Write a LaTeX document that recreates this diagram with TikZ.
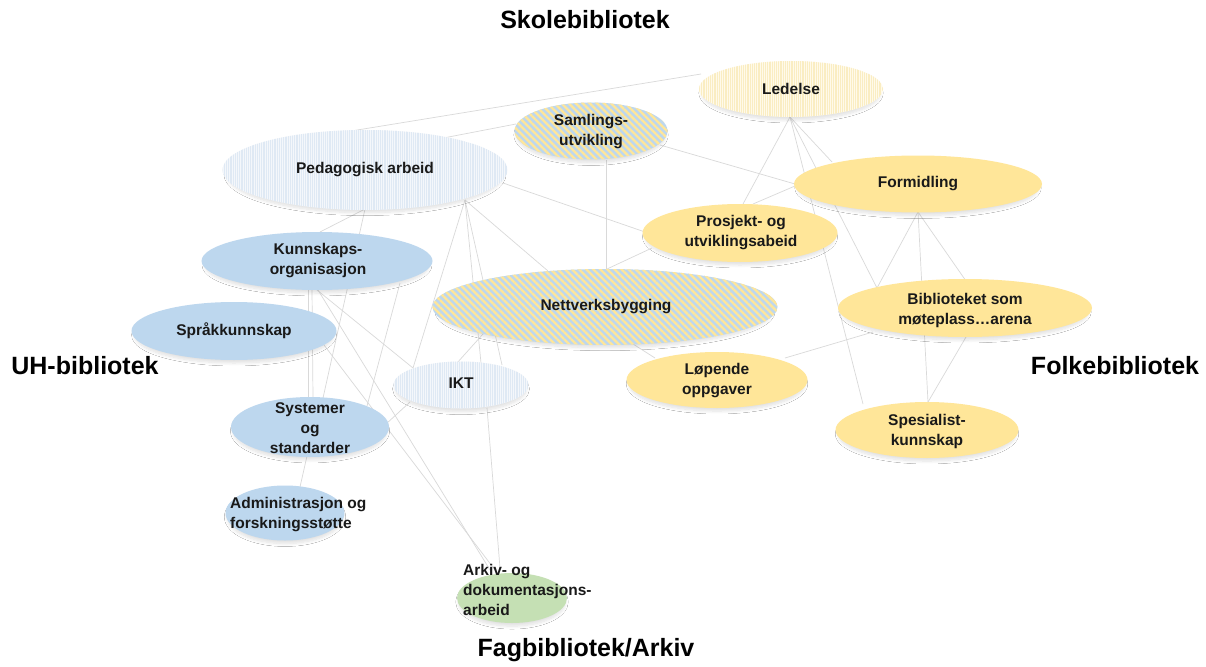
\documentclass[tikz,border=0pt]{standalone}
\usepackage{fontspec}
\setmainfont{Liberation Sans}
\usetikzlibrary{shapes.geometric,patterns.meta,calc,backgrounds,shadows.blur}
\definecolor{cblue}{HTML}{BDD7EE}
\definecolor{cyel}{HTML}{FFE699}
\definecolor{cgreen}{HTML}{C5E0B4}
\definecolor{ledbase}{HTML}{FFFAEA}
\definecolor{ledline}{HTML}{FAEDC2}
\definecolor{pbbase}{HTML}{F4F7FB}
\definecolor{pbline}{HTML}{DFE9F4}
\definecolor{lgray}{HTML}{D9D9D9}
\newcommand{\nodefont}{\fontsize{15.5}{20}\selectfont\bfseries}
\newcommand{\titlefont}{\fontsize{25}{30}\selectfont\bfseries}
\begin{document}
\begin{tikzpicture}[x=1pt,y=-1pt,
  ell/.style={ellipse, draw=none, inner sep=0pt,
    blur shadow={shadow xshift=0pt, shadow yshift=-4pt, shadow scale=0.97, shadow opacity=12, shadow blur steps=8, shadow blur radius=3pt}},
  solidblue/.style={ell, fill=cblue},
  solidyel/.style={ell, fill=cyel},
  solidgreen/.style={ell, fill=cgreen},
  paleblue/.style={ell, preaction={fill=pbbase}, pattern={Lines[angle=90,distance=2.2pt,line width=1.1pt]}, pattern color=pbline},
  paleyel/.style={ell, preaction={fill=ledbase}, pattern={Lines[angle=90,distance=2.2pt,line width=1.1pt]}, pattern color=ledline},
  striped/.style={ell, preaction={fill=cblue}, pattern={Lines[angle=-45,distance=5pt,line width=2.3pt]}, pattern color=cyel},
  txt/.style={font=\nodefont, align=center, inner sep=0pt, text=black!90},
  ttl/.style={font=\titlefont, inner sep=0pt, text=black},
  conn/.style={draw=lgray, line width=0.7pt}]
\useasboundingbox (0,0) rectangle (1206,666);

% titles
\node[ttl] (tskole) at (585,20) {Skolebibliotek};
\node[ttl] (tuh) at (85,366) {UH-bibliotek};
\node[ttl] (tfolk) at (1115,366) {Folkebibliotek};
\node[ttl] (tfag) at (586,650) {Fagbibliotek/Arkiv};

% ellipses
\node[paleyel, minimum width=184pt, minimum height=56pt] (led) at (791,89) {};
\node[striped, minimum width=153pt, minimum height=57pt] (sam) at (591,131) {};
\node[paleblue, minimum width=285pt, minimum height=80pt] (ped) at (365,170) {};
\node[solidblue, minimum width=231pt, minimum height=58pt] (kun) at (317,261) {};
\node[solidblue, minimum width=205pt, minimum height=58pt] (spr) at (234,331) {};
\node[striped, minimum width=345pt, minimum height=76pt] (net) at (605,307) {};
\node[paleblue, minimum width=135pt, minimum height=47pt] (ikt) at (461,385) {};
\node[solidblue, minimum width=158pt, minimum height=60pt] (sys) at (310,427) {};
\node[solidblue, minimum width=119pt, minimum height=55pt] (adm) at (285,513) {};
\node[solidgreen, minimum width=110pt, minimum height=50pt] (ark) at (512,598) {};
\node[solidyel, minimum width=195pt, minimum height=58pt] (pro) at (740,233) {};
\node[solidyel, minimum width=248pt, minimum height=57pt] (for) at (918,184) {};
\node[solidyel, minimum width=254pt, minimum height=58pt] (bib) at (965,308) {};
\node[solidyel, minimum width=181pt, minimum height=56pt] (lop) at (717,380) {};
\node[solidyel, minimum width=183pt, minimum height=56pt] (spe) at (927,430) {};

% texts
\node[txt] (ledT) at (led) {Ledelse};
\node[txt] (samT) at (591,132) {Samlings-\\utvikling};
\node[txt] (pedT) at (ped) {Pedagogisk arbeid};
\node[txt] (kunT) at (318,261) {Kunnskaps-\\organisasjon};
\node[txt] (sprT) at (234,331) {Språkkunnskap};
\node[txt] (netT) at (606,307) {Nettverksbygging};
\node[txt] (iktT) at (461,383) {IKT};
\node[txt] (sysT) at (310,428) {Systemer\\og\\standarder};
\node[txt, align=left, anchor=west] (admT) at (230,515) {Administrasjon og\\forskningsstøtte};
\node[txt, align=left, anchor=west] (arkT) at (463,590) {Arkiv- og\\dokumentasjons-\\arbeid};
\node[txt] (proT) at (741,233) {Prosjekt- og\\utviklingsabeid};
\node[txt] (forT) at (918,184) {Formidling};
\node[txt] (bibT) at (965,310) {Biblioteket som\\møteplass…arena};
\node[txt] (lopT) at (717,381) {Løpende\\oppgaver};
\node[txt] (speT) at (927,431) {Spesialist-\\kunnskap};

% connectors
\begin{pgfonlayer}{background}
\fill[white] (0,0) rectangle (1206,666);
\draw[conn] ($(ped)+(-20,-38)$) -- ($(led)+(-90,-15)$);
\draw[conn] ($(ped)+(68,-30)$) -- ($(sam)+(-75,-7)$);
\draw[conn] ($(sam)+(69,14)$) -- ($(for)+(-123,0)$);
\draw[conn] ($(sam)+(15,29)$) -- ($(net)+(1,-38)$);
\draw[conn] ($(led)+(-1,28)$) -- ($(pro)+(3,-29)$);
\draw[conn] ($(led)+(-1,28)$) -- ($(for)+(-86,-22)$);
\draw[conn] ($(led)+(-1,28)$) -- ($(bib)+(-88,-20)$);
\draw[conn] ($(led)+(-1,28)$) -- ($(spe)+(-64,-26)$);
\draw[conn] ($(pro)+(13,-29)$) -- ($(for)+(-123,2)$);
\draw[conn] ($(ped)+(138,13)$) -- ($(pro)+(-95,-1)$);
\draw[conn] ($(pro)+(-88,15)$) -- ($(net)+(2,-38)$);
\draw[conn] ($(for)+(0,28)$) -- ($(bib)+(-88,-20)$);
\draw[conn] ($(for)+(0,28)$) -- ($(spe)+(1,-28)$);
\draw[conn] ($(for)+(0,28)$) -- ($(bib)+(1,-27)$);
\draw[conn] ($(bib)+(1,29)$) -- ($(spe)+(1,-28)$);
\draw[conn] ($(lop)+(68,-22)$) -- ($(bib)+(-92,24)$);
\draw[conn] ($(net)+(28,37)$) -- ($(lop)+(-62,-22)$);
\draw[conn] ($(ped)+(0,39)$) -- ($(kun)+(3,-29)$);
\draw[conn] ($(ped)+(0,39)$) -- ($(sys)+(13,-29)$);
\draw[conn] ($(kun)+(83,22)$) -- ($(sys)+(57,-21)$);
\draw[conn] ($(kun)+(-5,29)$) -- ($(sys)+(3,-29)$);
\draw[conn] ($(kun)+(-9,29)$) -- ($(sys)+(-2,-29)$);
\draw[conn] ($(sys)+(-3,29)$) -- ($(adm)+(15,-26)$);
\draw[conn] ($(kun)+(0,29)$) -- ($(ikt)+(-48,-17)$);
\draw[conn] ($(kun)+(1,29)$) -- ($(ark)+(-22,-28)$);
\draw[conn] ($(spr)+(90,14)$) -- ($(ark)+(-17,-28)$);
\draw[conn] ($(ped)+(100,30)$) -- ($(ikt)+(-48,-17)$);
\draw[conn] ($(ped)+(100,30)$) -- ($(ikt)+(20,-22)$);
\draw[conn] ($(ped)+(100,30)$) -- ($(ikt)+(41,-20)$);
\draw[conn] ($(ped)+(100,30)$) -- ($(net)+(-57,-36)$);
\draw[conn] ($(net)+(-122,27)$) -- ($(ikt)+(-4,-22)$);
\draw[conn] ($(ikt)+(26,23)$) -- ($(ark)+(-12,-30)$);
\draw[conn] ($(ikt)+(-51,17)$) -- ($(sys)+(76,-3)$);
\end{pgfonlayer}
\end{tikzpicture}
\end{document}
